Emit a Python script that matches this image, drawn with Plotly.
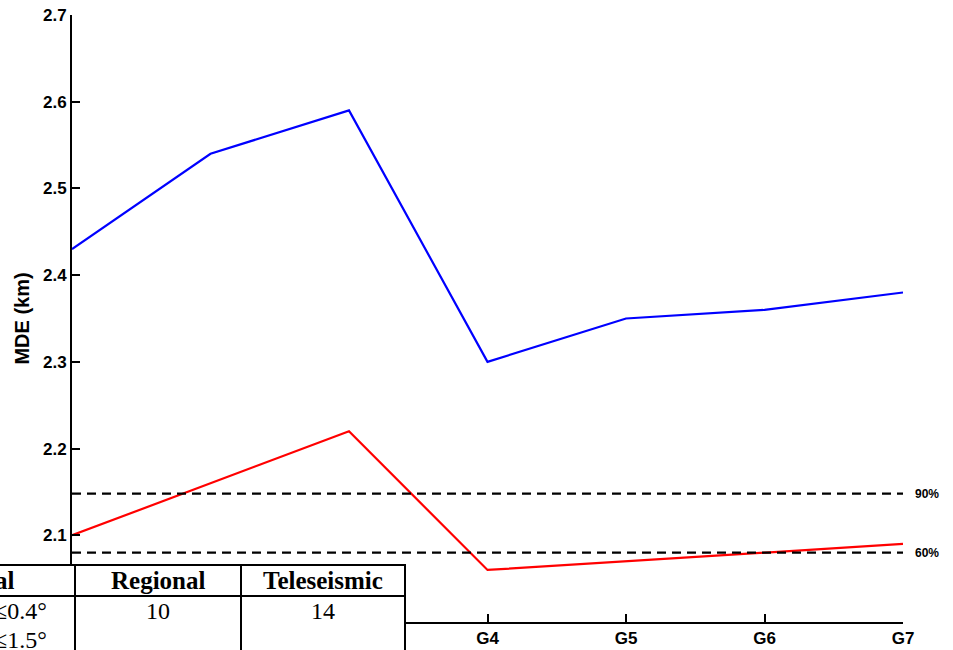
import plotly.graph_objects as go

categories = ["G1", "G2", "G3", "G4", "G5", "G6", "G7"]
blue_values = [2.43, 2.54, 2.59, 2.30, 2.35, 2.36, 2.38]
red_values = [2.10, 2.16, 2.22, 2.06, 2.07, 2.08, 2.09]
ref_levels = [2.148, 2.080]
ref_labels = ["90%", "60%"]
y_ticks = [2.1, 2.2, 2.3, 2.4, 2.5, 2.6, 2.7]

table_header = ["al", "Regional", "Teleseismic"]
table_row1 = ["\u22640.4\u00b0", "10", "14"]
table_row2 = ["\u22641.5\u00b0", "", ""]

W, H = 953, 650
L, R, T, B = 72, 50, 15, 28
pw, ph = W - L - R, H - T - B

def px(x):
    return (x - L) / pw

def py(y):
    return (H - B - y) / ph

fig = go.Figure()
fig.add_trace(go.Scatter(x=categories, y=blue_values, mode="lines",
                         line=dict(color="#0000FF", width=2.2), showlegend=False))
fig.add_trace(go.Scatter(x=categories, y=red_values, mode="lines",
                         line=dict(color="#FF0000", width=2.2), showlegend=False))
for lev, lab in zip(ref_levels, ref_labels):
    fig.add_trace(go.Scatter(x=[categories[0], categories[-1]], y=[lev, lev], mode="lines",
                             line=dict(color="black", width=2.2, dash="9px,6px"),
                             showlegend=False))
    fig.add_annotation(x=px(913), xref="paper", y=lev, yref="y", text="<b>%s</b>" % lab,
                       showarrow=False, xanchor="left", yanchor="middle",
                       font=dict(family="Liberation Sans", size=12, color="black"))

tickfont = dict(family="Liberation Sans", size=17, color="black")
fig.update_layout(
    width=W, height=H,
    margin=dict(l=L, r=R, t=T, b=B),
    paper_bgcolor="white", plot_bgcolor="white",
    xaxis=dict(type="category", range=[0, 6], showgrid=False, zeroline=False,
               automargin=False,
               showline=True, linecolor="black", linewidth=2,
               ticks="inside", ticklen=8, tickwidth=2, tickcolor="black",
               tickvals=categories, ticktext=["<b>%s</b>" % c for c in categories],
               tickfont=tickfont),
    yaxis=dict(range=[2.0, 2.7], showgrid=False, zeroline=False,
               automargin=False,
               showline=True, linecolor="black", linewidth=2,
               ticks="inside", ticklen=8, tickwidth=2, tickcolor="black",
               tickvals=y_ticks, ticktext=["<b>%.1f</b>" % v for v in y_ticks],
               tickfont=tickfont,
               title=dict(text="<b>MDE (km)</b>", standoff=8,
                          font=dict(family="Liberation Sans", size=20, color="black"))),
)

# table overlay (bottom-left)
x_left, x_c1, x_c2, x_right = -10, 75, 241, 405
y_top, y_hdr, y_bot = 565, 596, 680
fig.add_shape(type="rect", xref="paper", yref="paper",
              x0=px(x_left), x1=px(x_right), y0=py(y_bot), y1=py(y_top),
              fillcolor="white", line=dict(color="black", width=2), layer="above")
fig.add_shape(type="line", xref="paper", yref="paper",
              x0=px(x_left), x1=px(x_right), y0=py(y_hdr), y1=py(y_hdr),
              line=dict(color="black", width=2), layer="above")
for xc in (x_c1, x_c2):
    fig.add_shape(type="line", xref="paper", yref="paper",
                  x0=px(xc), x1=px(xc), y0=py(y_bot), y1=py(y_top),
                  line=dict(color="black", width=2), layer="above")

serif = "Liberation Serif"
col_centers = [None, (x_c1 + x_c2) / 2, (x_c2 + x_right) / 2]
for i, txt in enumerate(table_header):
    if i == 0:
        fig.add_annotation(x=px(17), xref="paper", y=py(580), yref="paper",
                           text="<b>%s</b>" % txt, showarrow=False, xanchor="right",
                           yanchor="middle", font=dict(family=serif, size=25, color="black"))
    else:
        fig.add_annotation(x=px(col_centers[i]), xref="paper", y=py(580), yref="paper",
                           text="<b>%s</b>" % txt, showarrow=False, xanchor="center",
                           yanchor="middle", font=dict(family=serif, size=25, color="black"))
for row, yy in ((table_row1, 611), (table_row2, 640)):
    for i, txt in enumerate(row):
        if not txt:
            continue
        if i == 0:
            fig.add_annotation(x=px(49), xref="paper", y=py(yy), yref="paper",
                               text=txt, showarrow=False, xanchor="right",
                               yanchor="middle", font=dict(family=serif, size=24, color="black"))
        else:
            fig.add_annotation(x=px(col_centers[i]), xref="paper", y=py(yy), yref="paper",
                               text=txt, showarrow=False, xanchor="center",
                               yanchor="middle", font=dict(family=serif, size=24, color="black"))

fig.write_html("out.html", config={"displayModeBar": False},
               post_script="document.body.style.margin='0px';document.body.style.overflow='hidden';")
